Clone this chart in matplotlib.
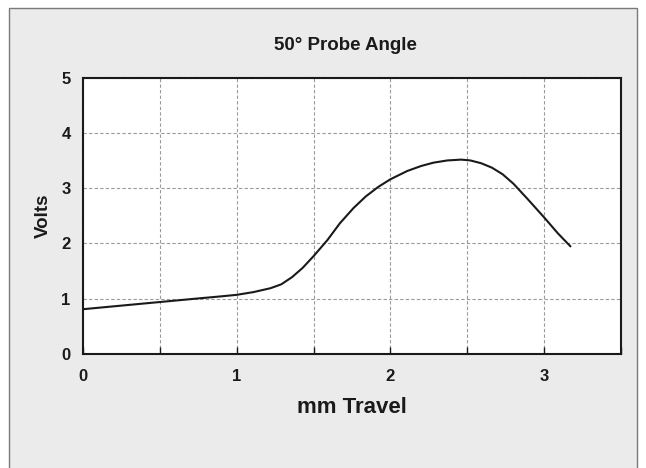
import matplotlib
matplotlib.use("Agg")
import matplotlib.pyplot as plt
from matplotlib.patches import Rectangle

# data
travel_mm = [0, 0.25, 0.5, 0.75, 0.89, 1.0, 1.11, 1.22, 1.29, 1.36, 1.43, 1.5,
             1.59, 1.67, 1.76, 1.84, 1.92, 2.0, 2.11, 2.2, 2.28, 2.37, 2.46,
             2.52, 2.59, 2.66, 2.73, 2.8, 2.89, 3.0, 3.09, 3.17]
volts = [0.81, 0.875, 0.94, 1.005, 1.04, 1.07, 1.12, 1.19, 1.26, 1.39, 1.56, 1.77,
         2.06, 2.36, 2.64, 2.85, 3.02, 3.16, 3.31, 3.40, 3.46, 3.50, 3.515,
         3.50, 3.45, 3.37, 3.25, 3.08, 2.81, 2.47, 2.18, 1.95]
x_ticks = [0, 0.5, 1, 1.5, 2, 2.5, 3, 3.5]
x_labels = ["0", "", "1", "", "2", "", "3", ""]
y_ticks = [0, 1, 2, 3, 4, 5]

plt.rcParams['font.family'] = ['Liberation Sans', 'DejaVu Sans']
plt.rcParams['font.weight'] = 'bold'

fig = plt.figure(figsize=(6.46, 4.68), dpi=100)
fig.patch.set_facecolor('white')

# grey panel with frame behind the chart
frame = Rectangle((9 / 646, -0.05), (637 - 9) / 646, 1.05 - 8 / 468,
                  transform=fig.transFigure, facecolor='#ebebeb',
                  edgecolor='#7a7a7a', linewidth=1.0, zorder=-5)
fig.add_artist(frame)

ax = fig.add_axes([83 / 646, 1 - 354 / 468, (621 - 83) / 646, (354 - 77.5) / 468])
ax.set_zorder(2)
ax.set_facecolor('white')

ax.plot(travel_mm, volts, color='#1a1a1a', linewidth=1.5, zorder=3,
        solid_joinstyle='round')

ax.set_xlim(0, 3.5)
ax.set_ylim(0, 5)
ax.set_xticks(x_ticks)
ax.set_xticklabels(x_labels)
ax.set_yticks(y_ticks)

ax.grid(True, linestyle=(0, (3, 2)), color='#9a9a9a', linewidth=0.8)
ax.tick_params(axis='x', direction='in', length=5, width=1, pad=11,
               labelsize=12, colors='#1a1a1a')
ax.tick_params(axis='y', length=0, pad=9, labelsize=12, colors='#1a1a1a')
for s in ax.spines.values():
    s.set_linewidth(1.5)
    s.set_color('#1a1a1a')

ax.set_title('50° Probe Angle', fontsize=13.5, fontweight='bold', pad=20,
             color='#1a1a1a', x=0.488)
ax.set_xlabel('mm Travel', fontsize=16, fontweight='bold', labelpad=9,
              color='#1a1a1a')
ax.set_ylabel('Volts', fontsize=13.5, fontweight='bold', labelpad=7,
              color='#1a1a1a')

plt.savefig('out.png', dpi=100)
plt.close()
